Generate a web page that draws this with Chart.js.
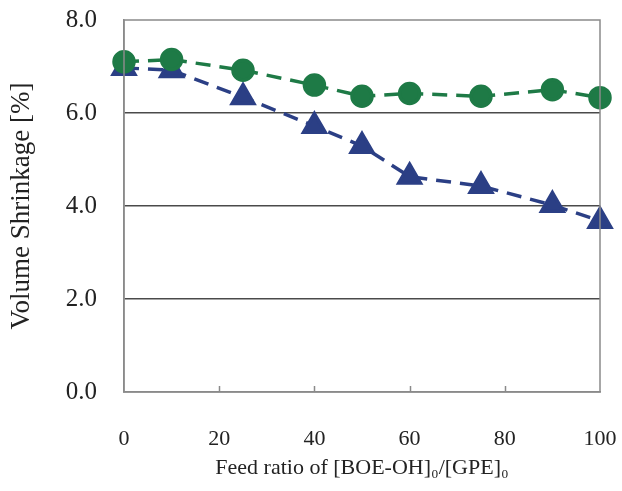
<!DOCTYPE html>
<html>
<head>
<meta charset="utf-8">
<script src="https://cdn.jsdelivr.net/npm/chart.js@4"></script>
<style>
  body { margin: 0; background: #fff; }
  #wrap { width: 622px; height: 491px; }
</style>
</head>
<body>
<div id="wrap"><canvas id="shrinkChart" width="622" height="491"></canvas></div>
<script>
// Feed ratio values (x) and measured volume shrinkage (y)
const feedRatio = [0, 10, 25, 40, 50, 60, 75, 90, 100];
const shrinkCircle = [7.10, 7.15, 6.92, 6.60, 6.36, 6.42, 6.36, 6.50, 6.33];
const shrinkTriangle = [6.97, 6.92, 6.34, 5.72, 5.29, 4.63, 4.43, 4.02, 3.68];
const xTicks = [0, 20, 40, 60, 80, 100];
const yTicks = [0, 2, 4, 6, 8];

const serif = '"Liberation Serif", "Times New Roman", serif';
const clear = 'rgba(0,0,0,0)';

// Frame on top/right and small inward tick marks on the x axis
const frameAndTicks = {
    id: 'frameAndTicks',
    afterDatasetsDraw(chart) {
        const { ctx, chartArea: a, scales } = chart;
        ctx.save();
        ctx.strokeStyle = '#8a8a8a';
        ctx.lineWidth = 1.5;
        ctx.strokeRect(a.left, a.top, a.right - a.left, a.bottom - a.top);
        xTicks.slice(1, -1).forEach(v => {
            const px = Math.round(scales.x.getPixelForValue(v)) + 0.5;
            ctx.beginPath();
            ctx.moveTo(px, a.bottom);
            ctx.lineTo(px, a.bottom - 6);
            ctx.stroke();
        });
        ctx.restore();
    }
};

new Chart(document.getElementById('shrinkChart'), {
    type: 'line',
    data: {
        datasets: [{
            data: feedRatio.map((x, i) => ({ x, y: shrinkCircle[i] })),
            borderColor: '#1e7a46',
            backgroundColor: '#1e7a46',
            pointStyle: 'circle',
            pointRadius: 10,
            borderWidth: 3.5,
            borderDash: [15, 9],
            clip: false
        }, {
            data: feedRatio.map((x, i) => ({ x, y: shrinkTriangle[i] })),
            borderColor: '#2b3f85',
            backgroundColor: '#2b3f85',
            pointStyle: 'triangle',
            pointRadius: 12.5,
            borderWidth: 3.5,
            borderDash: [15, 9],
            clip: false
        }]
    },
    options: {
        responsive: false,
        animation: false,
        layout: { autoPadding: false, padding: { top: 20, right: 22, bottom: 0, left: 0 } },
        plugins: { legend: { display: false }, tooltip: { enabled: false } },
        scales: {
            x: {
                type: 'linear',
                min: 0,
                max: 100,
                afterBuildTicks: s => { s.ticks = xTicks.map(v => ({ value: v })); },
                afterFit: s => { s.height = 99; },
                // invisible tick marks give the gap between axis and labels
                grid: { drawOnChartArea: false, drawTicks: true, tickLength: 34, tickColor: clear, color: clear },
                border: { display: true, color: '#8a8a8a', width: 1.5 },
                ticks: { padding: 0, color: '#222', font: { family: serif, size: 22 }, maxRotation: 0 },
                title: {
                    display: true,
                    text: 'Feed ratio of [BOE-OH]₀/[GPE]₀',
                    color: '#222',
                    font: { family: serif, size: 22 },
                    padding: { top: 0, bottom: 10 }
                }
            },
            y: {
                min: 0,
                max: 8,
                afterBuildTicks: s => { s.ticks = yTicks.map(v => ({ value: v })); },
                afterFit: s => { s.width = 124; },
                grid: {
                    drawTicks: true,
                    tickLength: 27,
                    tickColor: clear,
                    color: c => (c.tick && (c.tick.value === 0 || c.tick.value === 8)) ? clear : '#4a4a4a',
                    lineWidth: 1.5
                },
                border: { display: true, color: '#8a8a8a', width: 1.5 },
                ticks: {
                    padding: 0,
                    color: '#222',
                    font: { family: serif, size: 25 },
                    callback: v => v.toFixed(1)
                },
                title: {
                    display: true,
                    text: 'Volume Shrinkage [%]',
                    color: '#222',
                    font: { family: serif, size: 27 },
                    padding: { top: 6, bottom: 0 }
                }
            }
        }
    },
    plugins: [frameAndTicks]
});
</script>
</body>
</html>
